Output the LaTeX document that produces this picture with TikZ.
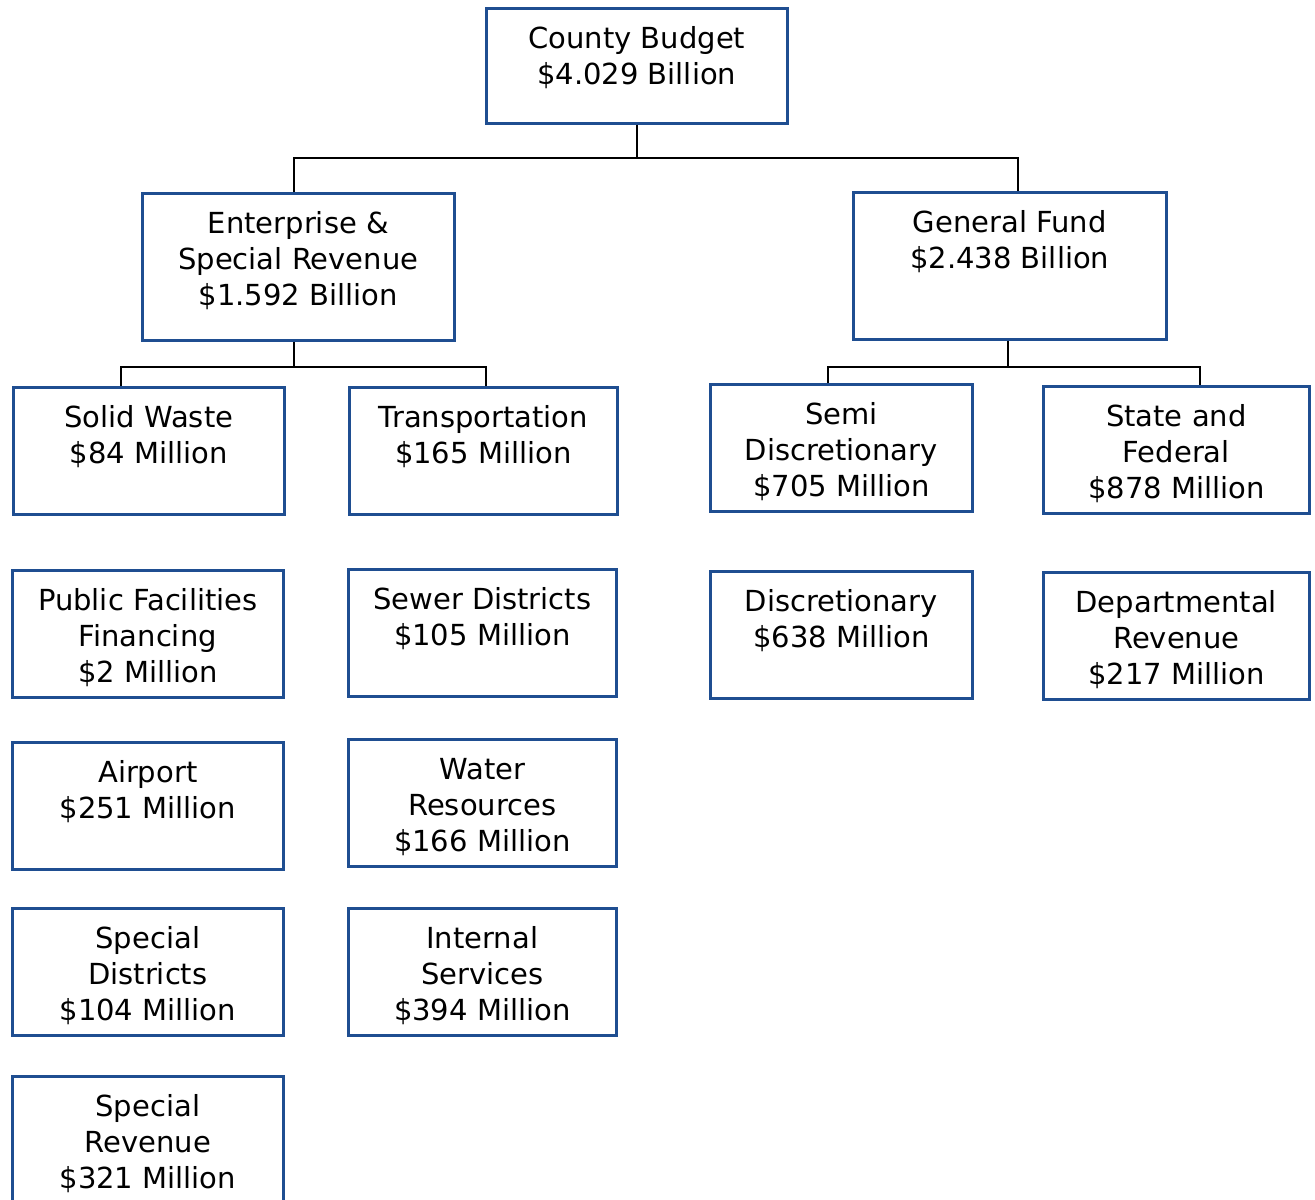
\documentclass[tikz,border=0pt]{standalone}
\usepackage{fontspec}
\newfontfamily\budgetfont{DejaVu Sans}
\definecolor{boxblue}{RGB}{31,78,145}
\begin{document}
\begin{tikzpicture}[x=0.5pt, y=-0.5pt,
% common options for the budget boxes:
unit/.style = {draw=boxblue, line width=1.3pt, anchor=north west, align=center,
            inner sep=0, font=\budgetfont\fontsize{14.5}{18}\selectfont},
lines2/.style = {unit, text height=38.25pt, text depth=25.25pt},
lines3/.style = {unit, text height=56.25pt, text depth=7.25pt},
colA/.style = {minimum width=135.5pt},
colB/.style = {minimum width=134pt},
colC/.style = {minimum width=131pt},
colD/.style = {minimum width=133pt},
% common options for the connectors:
link/.style = {draw=black, line width=1.1pt}]
\fill[white] (0,0) rectangle (1315,1199);
\useasboundingbox (0,0) rectangle (1315,1199);
\node[lines2, minimum width=150.5pt, text depth=19.25pt] (county) at (485,7) {County Budget\\\$4.029 Billion};
\node[lines3, minimum width=156pt, text depth=17.25pt] (ent) at (141,192) {Enterprise \&\\Special Revenue\\\$1.592 Billion};
\node[lines2, minimum width=156.5pt, text depth=35.25pt] (gen) at (852,191) {General Fund\\\$2.438 Billion};
\node[lines2, colA] (solid) at (12,386) {Solid Waste\\\$84 Million};
\node[lines2, colB] (trans) at (348,386) {Transportation\\\$165 Million};
\node[lines3, colC] (semi) at (709,383) {Semi\\Discretionary\\\$705 Million};
\node[lines3, colD] (state) at (1042,385) {State and\\Federal\\\$878 Million};
\node[lines3, colA] (pubfac) at (11,569) {Public Facilities\\Financing\\\$2 Million};
\node[lines2, colB] (sewer) at (347,568) {Sewer Districts\\\$105 Million};
\node[lines2, colC] (disc) at (709,570) {Discretionary\\\$638 Million};
\node[lines3, colD] (dept) at (1042,571) {Departmental\\Revenue\\\$217 Million};
\node[lines2, colA] (airport) at (11,741) {Airport\\\$251 Million};
\node[lines3, colB] (water) at (347,738) {Water\\Resources\\\$166 Million};
\node[lines3, colA] (specdist) at (11,907) {Special\\Districts\\\$104 Million};
\node[lines3, colB] (internal) at (347,907) {Internal\\Services\\\$394 Million};
\node[lines3, colA, text depth=11.25pt] (specrev) at (11,1075) {Special\\Revenue\\\$321 Million};
% tree connectors
\draw[link] (county.south) -- ++(0,33) coordinate (topjoin);
\draw[link] ([xshift=-2pt]ent.north) |- (topjoin) -| ([xshift=4.25pt]gen.north);
\draw[link] ([xshift=-2pt]ent.south) -- ++(0,25) coordinate (entjoin);
\draw[link] ([xshift=-13.75pt]solid.north) |- (entjoin) -| ([xshift=1.5pt]trans.north);
\draw[link] ([xshift=-0.75pt]gen.south) -- ++(0,26) coordinate (genjoin);
\draw[link] ([xshift=-6.5pt]semi.north) |- (genjoin) -| ([xshift=12pt]state.north);
\end{tikzpicture}
\end{document}
